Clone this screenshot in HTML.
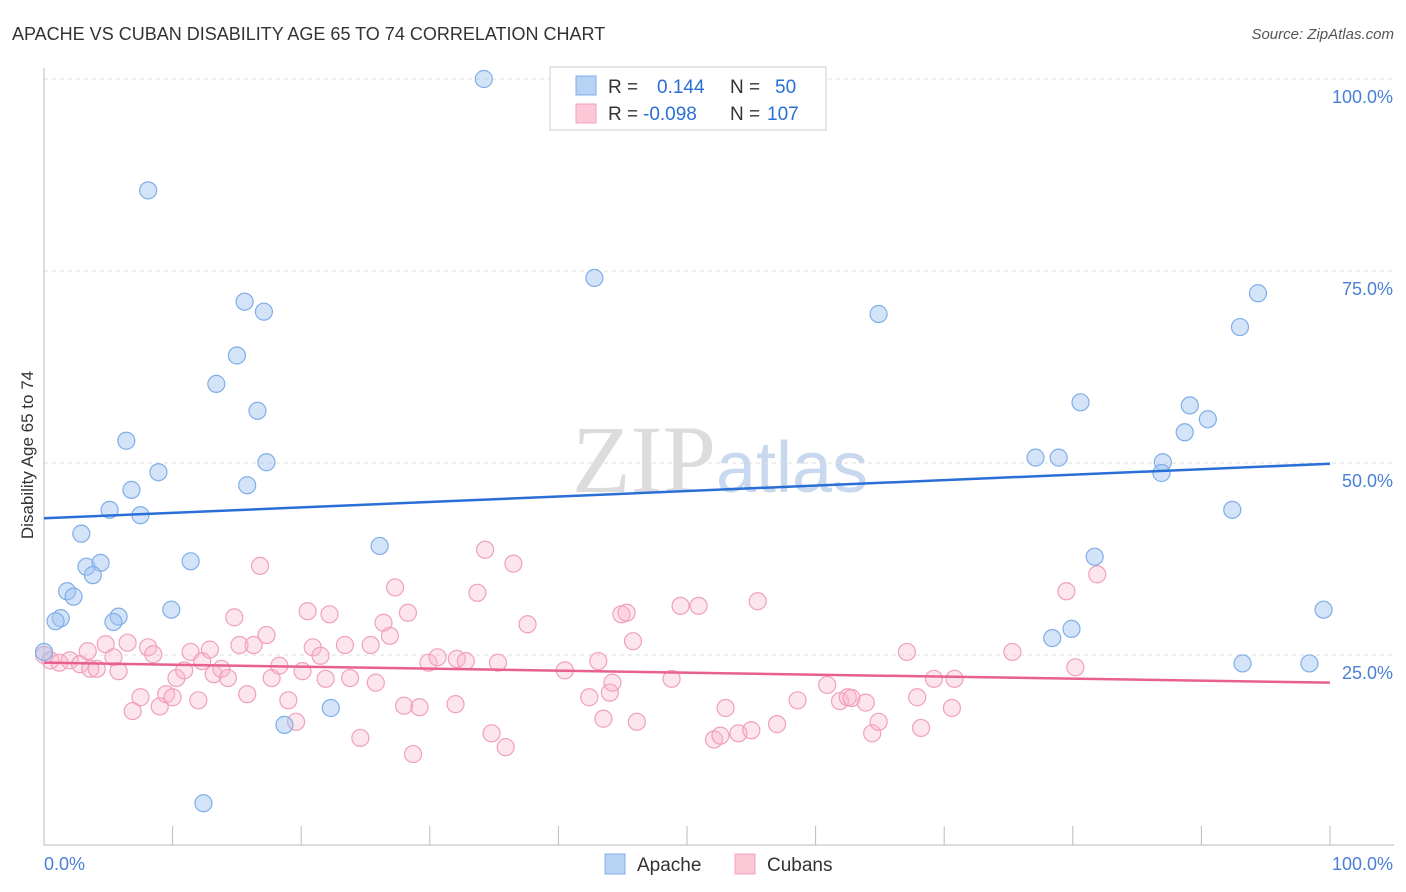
<!DOCTYPE html>
<html><head><meta charset="utf-8"><style>
body{margin:0;background:#fff;font-family:"Liberation Sans",sans-serif;}
svg{display:block}
</style></head><body>
<svg width="1406" height="892" id="chart">
<text x="12" y="40" font-size="18" fill="#333">APACHE VS CUBAN DISABILITY AGE 65 TO 74 CORRELATION CHART</text>
<text x="1394" y="39" font-size="15" fill="#555" font-style="italic" text-anchor="end">Source: ZipAtlas.com</text>
<text x="720" y="492" font-size="96" fill="#dcdcdc" text-anchor="middle" font-family="Liberation Serif,serif">ZIP<tspan fill="#c8d8ee" font-family="Liberation Sans,sans-serif" font-size="72">atlas</tspan></text>
<g id="grid"></g>
<g id="axes"></g>
<text transform="translate(33,455) rotate(-90)" font-size="17" fill="#333" text-anchor="middle">Disability Age 65 to 74</text>
<g id="pts"></g>
<g id="lines"></g>
<g>
<rect x="550" y="67" width="276" height="63" fill="#fff" stroke="#ccc"/>
<rect x="576" y="76" width="20" height="19" fill="#b8d2f4" stroke="#7faee8"/>
<rect x="576" y="104" width="20" height="19" fill="#fcc8d8" stroke="#f0a0bc"/>
<text x="608" y="93" font-size="19" fill="#333">R = <tspan x="657" fill="#2a6fd6">0.144</tspan><tspan x="730" fill="#333">N =</tspan><tspan x="775" fill="#2a6fd6">50</tspan></text>
<text x="608" y="120" font-size="19" fill="#333">R = <tspan x="643" fill="#2a6fd6">-0.098</tspan><tspan x="730" fill="#333">N =</tspan><tspan x="767" fill="#2a6fd6">107</tspan></text>
</g>
<g>
<rect x="605" y="854" width="20" height="20" fill="#b8d2f4" stroke="#7faee8"/>
<text x="637" y="871" font-size="19" fill="#333">Apache</text>
<rect x="735" y="854" width="20" height="20" fill="#fcc8d8" stroke="#f0a0bc"/>
<text x="767" y="871" font-size="19" fill="#333">Cubans</text>
</g>
</svg>
<script>
const yTicks=[25,50,75,100];
const yTickLabels=["25.0%","50.0%","75.0%","100.0%"];
const xTickCount=10;
const apacheX=[34.2,8.1,42.8,15.6,17.1,64.9,94.4,93.0,15.0,13.4,16.6,6.4,80.6,89.1,88.7,90.5,8.9,17.3,77.1,78.9,87.0,86.9,6.8,15.8,5.1,7.5,92.4,2.9,26.1,11.4,81.7,3.3,4.4,3.8,1.8,2.3,9.9,5.8,1.3,0.9,5.4,79.9,78.4,93.2,98.4,99.5,22.3,18.7,12.4,0];
const apacheY=[100,85.5,74.1,71.0,69.7,69.4,72.1,67.7,64.0,60.3,56.8,52.9,57.9,57.5,54.0,55.7,48.8,50.1,50.7,50.7,50.1,48.7,46.5,47.1,43.9,43.2,43.9,40.8,39.2,37.2,37.8,36.5,37.0,35.4,33.3,32.6,30.9,30.0,29.8,29.4,29.3,28.4,27.2,23.9,23.9,30.9,18.1,15.9,5.7,25.4];
const cubanX=[0,0.5,1.2,2.0,2.8,3.6,4.1,3.4,4.8,5.4,5.8,6.5,6.9,7.5,8.1,8.5,9.0,9.5,10.0,10.3,10.9,11.4,12.0,12.3,12.9,13.2,13.8,14.3,14.8,15.2,15.8,16.3,16.8,17.3,17.7,18.3,19.0,19.6,20.1,20.5,20.9,21.5,21.9,22.2,23.4,23.8,24.6,25.4,25.8,26.4,26.9,27.3,28.0,28.3,28.7,29.2,29.9,30.6,32.0,32.1,32.8,33.7,34.3,34.8,35.3,35.9,36.5,37.6,40.5,42.4,43.1,43.5,44.0,44.2,44.9,45.3,45.8,46.1,48.8,49.5,50.9,52.1,52.6,53.0,54.0,55.0,55.5,57.0,58.6,60.9,61.9,62.5,62.8,63.9,64.4,64.9,67.1,67.9,68.2,69.2,70.6,70.8,75.3,79.5,80.2,81.9];
const cubanY=[25.0,24.3,24.0,24.3,23.8,23.2,23.2,25.5,26.4,24.7,22.9,26.6,17.7,19.5,26.0,25.1,18.3,19.9,19.5,22.0,23.0,25.4,19.1,24.2,25.7,22.5,23.2,22.0,29.9,26.3,19.9,26.3,36.6,27.6,22.0,23.6,19.1,16.3,22.9,30.7,26.0,24.9,21.9,30.3,26.3,22.0,14.2,26.3,21.4,29.2,27.5,33.8,18.4,30.5,12.1,18.2,24.0,24.7,18.6,24.5,24.2,33.1,38.7,14.8,24.0,13.0,36.9,29.0,23.0,19.5,24.2,16.7,20.1,21.4,30.3,30.5,26.8,16.3,21.9,31.4,31.4,14.0,14.5,18.1,14.8,15.2,32.0,16.0,19.1,21.1,19.0,19.5,19.4,18.8,14.8,16.3,25.4,19.5,15.5,21.9,18.1,21.9,25.4,33.3,23.4,35.5];
const apacheTrend=[42.8,49.9];
const cubanTrend=[24.0,21.4];
const NS="http://www.w3.org/2000/svg";
const X0=44,X1=1330,Y0=847,YPX=768;
const sx=v=>X0+(X1-X0)*v/100;
const sy=v=>Y0-YPX*v/100;
function mk(tag,attrs,parent){const e=document.createElementNS(NS,tag);for(const k in attrs)e.setAttribute(k,attrs[k]);parent.appendChild(e);return e;}
const grid=document.getElementById('grid'),axes=document.getElementById('axes');
yTicks.forEach((t,i)=>{
 const l=mk('line',{x1:44,x2:1394,y1:sy(t),y2:sy(t),stroke:'#ddd','stroke-dasharray':'4,4'},grid);
 
 
 const tx=mk('text',{x:1393,y:sy(t)+24,'font-size':18,fill:'#4a7fd6','text-anchor':'end'},axes);
 tx.textContent=yTickLabels[i];
 
 
});
const xa=mk('line',{x1:44,x2:1394,y1:845,y2:845,stroke:'#bbb'},axes);


const ya=mk('line',{x1:44,x2:44,y1:68,y2:845,stroke:'#bbb'},axes);


for(let i=0;i<=xTickCount;i++){
 const tk=mk('line',{x1:sx(i*10),x2:sx(i*10),y1:826,y2:845,stroke:'#bbb'},axes);
 
 
}
const xl0=mk('text',{x:44,y:870,'font-size':18,fill:'#4a7fd6'},axes);xl0.textContent='0.0%';


const xl1=mk('text',{x:1393,y:870,'font-size':18,fill:'#4a7fd6','text-anchor':'end'},axes);xl1.textContent='100.0%';


const pts=document.getElementById('pts');
cubanX.forEach((x,i)=>{
 const c=mk('circle',{cx:sx(x),cy:sy(cubanY[i]),r:8.5,fill:'rgba(248,180,200,0.35)',stroke:'#f0a0bc','stroke-width':1.2},pts);
 
 
});
apacheX.forEach((x,i)=>{
 const c=mk('circle',{cx:sx(x),cy:sy(apacheY[i]),r:8.5,fill:'rgba(160,196,240,0.45)',stroke:'#7faee8','stroke-width':1.2},pts);
 
 
});
const lines=document.getElementById('lines');
const la=mk('line',{x1:sx(0),x2:sx(100),y1:sy(apacheTrend[0]),y2:sy(apacheTrend[1]),stroke:'#2a6fd6','stroke-width':2.5},lines);


const lc=mk('line',{x1:sx(0),x2:sx(100),y1:sy(cubanTrend[0]),y2:sy(cubanTrend[1]),stroke:'#e8608f','stroke-width':2.5},lines);


</script>
</body></html>
